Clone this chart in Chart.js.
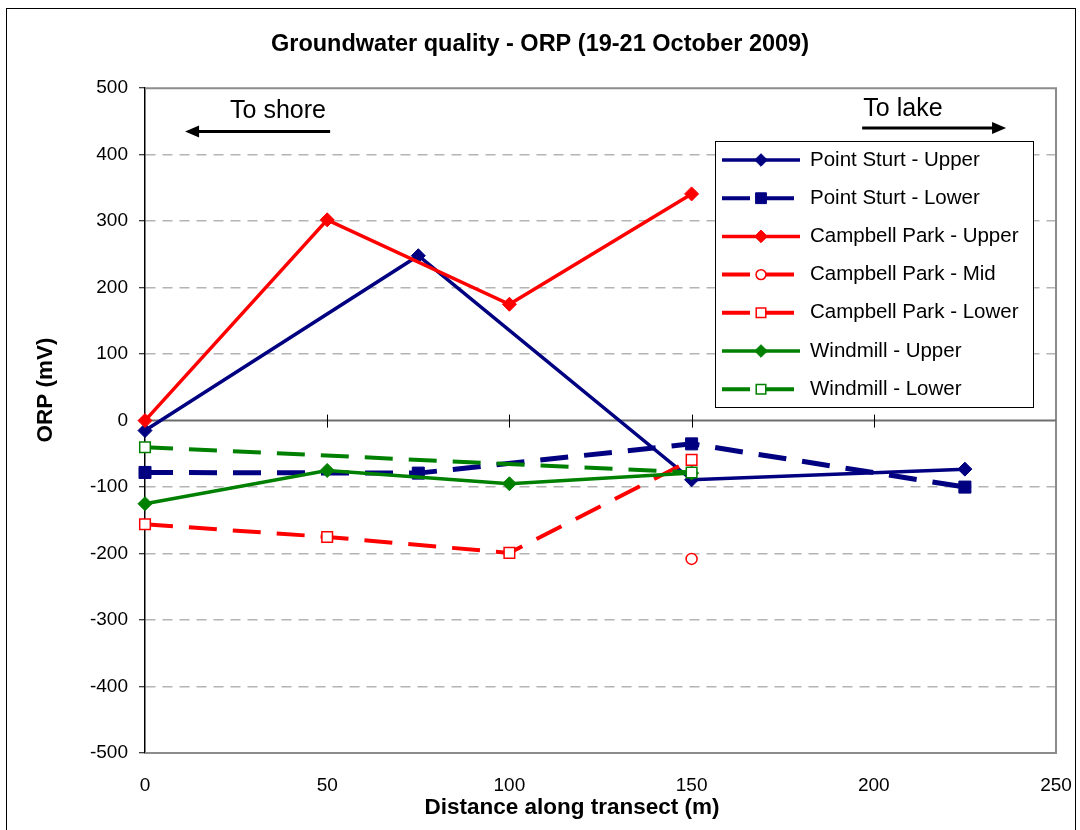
<!DOCTYPE html>
<html>
<head>
<meta charset="utf-8">
<title>Groundwater quality - ORP</title>
<script src="https://cdn.jsdelivr.net/npm/chart.js@4.4.1/dist/chart.umd.min.js"></script>
<style>
  body { margin: 0; background: #fff; }
  canvas { display: block; }
</style>
</head>
<body>
<canvas id="orpChart" width="1080" height="830"></canvas>
<script>
// distances (m) and ORP (mV)
const seriesNames = [
    'Point Sturt - Upper', 'Point Sturt - Lower', 'Campbell Park - Upper',
    'Campbell Park - Mid', 'Campbell Park - Lower', 'Windmill - Upper', 'Windmill - Lower'
];
const psUpperX = [0, 75, 150, 225];
const psUpperY = [-15, 248, -89, -73];
const psLowerX = [0, 75, 150, 225];
const psLowerY = [-78, -79, -35, -100];
const cpUpperX = [0, 50, 100, 150];
const cpUpperY = [0, 302, 175, 341];
const cpMidX = [150];
const cpMidY = [-208];
const cpLowerX = [0, 50, 100, 150];
const cpLowerY = [-156, -175, -199, -59];
const wmUpperX = [0, 50, 100, 150];
const wmUpperY = [-125, -75, -95, -79];
const wmLowerX = [0, 150];
const wmLowerY = [-40, -78];

const xTicks = [0, 50, 100, 150, 200, 250];
const yTicks = [-500, -400, -300, -200, -100, 0, 100, 200, 300, 400, 500];

const FONT = "'Liberation Sans', Arial, sans-serif";
const NAVY = '#000080', RED = '#ff0000', GREEN = '#008000';

function pts(xs, ys) {
    return xs.map((x, i) => ({ x: x, y: ys[i] }));
}

function makeSet(i, xs, ys, color, opts) {
    return Object.assign({
        label: seriesNames[i],
        data: pts(xs, ys),
        showLine: true,
        borderColor: color,
        backgroundColor: color,
        pointBackgroundColor: color,
        pointBorderColor: color,
        borderWidth: 3.5,
        borderDash: [],
        pointStyle: 'rectRot',
        pointRadius: 7,
        pointBorderWidth: 1,
        clip: false,
        order: 10 - i
    }, opts);
}

const datasets = [
    makeSet(0, psUpperX, psUpperY, NAVY, {}),
    makeSet(1, psLowerX, psLowerY, NAVY, { borderWidth: 5, borderDash: [28, 16], pointStyle: 'rect', pointRadius: 8.5 }),
    makeSet(2, cpUpperX, cpUpperY, RED, {}),
    makeSet(3, cpMidX, cpMidY, RED, { showLine: false, borderWidth: 4, borderDash: [28, 16], pointStyle: 'circle', pointRadius: 5.5, pointBorderWidth: 1.5, pointBackgroundColor: '#fff' }),
    makeSet(4, cpLowerX, cpLowerY, RED, { borderWidth: 4, borderDash: [28, 16], pointStyle: 'rect', pointRadius: 7.5, pointBorderWidth: 1.5, pointBackgroundColor: '#fff' }),
    makeSet(5, wmUpperX, wmUpperY, GREEN, {}),
    makeSet(6, wmLowerX, wmLowerY, GREEN, { borderWidth: 4, borderDash: [28, 16], pointStyle: 'rect', pointRadius: 7.5, pointBorderWidth: 1.5, pointBackgroundColor: '#fff' })
];

function arrow(ctx, x1, y1, x2, y2) {
    const dir = Math.sign(x2 - x1);
    ctx.beginPath();
    ctx.moveTo(x1, y1);
    ctx.lineTo(x2 - dir * 10, y2);
    ctx.stroke();
    ctx.beginPath();
    ctx.moveTo(x2, y2);
    ctx.lineTo(x2 - dir * 14, y2 - 6);
    ctx.lineTo(x2 - dir * 14, y2 + 6);
    ctx.closePath();
    ctx.fill();
}

const decorPlugin = {
    id: 'decor',
    beforeDraw(chart) {
        const ctx = chart.ctx;
        ctx.save();
        ctx.fillStyle = '#fff';
        ctx.fillRect(0, 0, chart.width, chart.height);
        ctx.restore();
    },
    beforeDatasetsDraw(chart) {
        const { ctx, chartArea: a, scales: { x, y } } = chart;
        ctx.save();
        // plot border
        ctx.strokeStyle = '#8c8c8c';
        ctx.lineWidth = 2;
        ctx.beginPath();
        ctx.moveTo(a.left, a.top);
        ctx.lineTo(a.right, a.top);
        ctx.lineTo(a.right, a.bottom);
        ctx.lineTo(a.left, a.bottom);
        ctx.stroke();
        // horizontal axis crossing at 0 with its tick marks
        const y0 = y.getPixelForValue(0);
        ctx.strokeStyle = '#6e6e6e';
        ctx.lineWidth = 2;
        ctx.beginPath();
        ctx.moveTo(a.left, y0);
        ctx.lineTo(a.right, y0);
        ctx.stroke();
        ctx.strokeStyle = '#000';
        ctx.lineWidth = 1;
        xTicks.slice(1, -1).forEach(v => {
            const px = Math.round(x.getPixelForValue(v)) + 0.5;
            ctx.beginPath();
            ctx.moveTo(px, y0 - 6);
            ctx.lineTo(px, y0 + 7);
            ctx.stroke();
        });
        ctx.restore();
    },
    afterDatasetsDraw(chart) {
        const { ctx, chartArea: a, scales: { x, y } } = chart;
        ctx.save();
        // direction notes
        ctx.fillStyle = '#000';
        ctx.strokeStyle = '#000';
        ctx.lineWidth = 3;
        ctx.font = '25px ' + FONT;
        ctx.textAlign = 'center';
        ctx.textBaseline = 'middle';
        ctx.fillText('To shore', x.getPixelForValue(36.5), y.getPixelForValue(465));
        arrow(ctx, x.getPixelForValue(50.8), y.getPixelForValue(435), x.getPixelForValue(11), y.getPixelForValue(435));
        ctx.fillText('To lake', x.getPixelForValue(208), y.getPixelForValue(468));
        arrow(ctx, x.getPixelForValue(196.8), y.getPixelForValue(440), x.getPixelForValue(236.3), y.getPixelForValue(440));

        // legend box
        const lx = 715, ly = 141, lw = 318, lh = 266;
        ctx.fillStyle = '#fff';
        ctx.fillRect(lx, ly, lw, lh);
        ctx.strokeStyle = '#000';
        ctx.lineWidth = 1;
        ctx.strokeRect(lx + 0.5, ly + 0.5, lw, lh);
        ctx.font = '20.5px ' + FONT;
        ctx.textAlign = 'left';
        chart.data.datasets.forEach((ds, i) => {
            const cy = 160 + i * 38.2;
            ctx.strokeStyle = ds.borderColor;
            ctx.lineWidth = Math.min(ds.borderWidth, 4);
            ctx.setLineDash(ds.borderDash);
            ctx.beginPath();
            ctx.moveTo(722, cy);
            ctx.lineTo(800, cy);
            ctx.stroke();
            ctx.setLineDash([]);
            ctx.fillStyle = ds.pointBackgroundColor;
            ctx.strokeStyle = ds.pointBorderColor;
            ctx.lineWidth = ds.pointBorderWidth;
            Chart.helpers.drawPoint(ctx, {
                pointStyle: ds.pointStyle,
                radius: ds.pointRadius * 0.9,
                borderWidth: ds.pointBorderWidth,
                rotation: 0
            }, 761, cy);
            ctx.fillStyle = '#000';
            ctx.fillText(ds.label, 810, cy);
        });

        // axis titles
        ctx.font = 'bold 22.5px ' + FONT;
        ctx.textAlign = 'center';
        ctx.fillText('Distance along transect (m)', 572, 808);
        ctx.translate(45.5, 390);
        ctx.rotate(-Math.PI / 2);
        ctx.fillText('ORP (mV)', 0, 0);
        ctx.restore();
    },
    afterDraw(chart) {
        const ctx = chart.ctx;
        ctx.save();
        ctx.strokeStyle = '#000';
        ctx.lineWidth = 1;
        ctx.strokeRect(6.5, 8.5, 1069, 840);
        ctx.restore();
    }
};

new Chart(document.getElementById('orpChart').getContext('2d'), {
    type: 'scatter',
    data: { datasets: datasets },
    options: {
        responsive: false,
        animation: false,
        layout: { padding: { top: 10, left: 24, right: 24, bottom: 10 } },
        plugins: {
            legend: { display: false },
            tooltip: { enabled: false },
            title: {
                display: true,
                text: 'Groundwater quality - ORP (19-21 October 2009)',
                color: '#000',
                font: { family: FONT, size: 23.5, weight: 'bold' },
                padding: { top: 20, bottom: 30 }
            }
        },
        scales: {
            x: {
                type: 'linear',
                position: 'bottom',
                min: 0,
                max: 250,
                afterBuildTicks: s => { s.ticks = xTicks.map(v => ({ value: v })); },
                afterFit: s => { s.height = 67; },
                grid: { display: false, drawTicks: true, tickLength: 20 },
                border: { display: false },
                ticks: { color: '#000', font: { family: FONT, size: 19 }, padding: 1, maxRotation: 0 }
            },
            y: {
                type: 'linear',
                min: -500,
                max: 500,
                afterBuildTicks: s => { s.ticks = yTicks.map(v => ({ value: v })); },
                afterFit: s => { s.width = 121; },
                grid: {
                    color: c => (c.tick && (c.tick.value === 0 || Math.abs(c.tick.value) === 500)) ? 'rgba(0,0,0,0)' : '#b4b4b4',
                    lineWidth: 1.5,
                    tickColor: '#000',
                    tickLength: 6,
                    tickWidth: 1
                },
                border: { display: true, color: '#000', width: 1.5, dash: [10, 7] },
                ticks: { color: '#000', font: { family: FONT, size: 19 }, padding: 11 },
                title: { display: false }
            }
        }
    },
    plugins: [decorPlugin]
});
</script>
</body>
</html>
